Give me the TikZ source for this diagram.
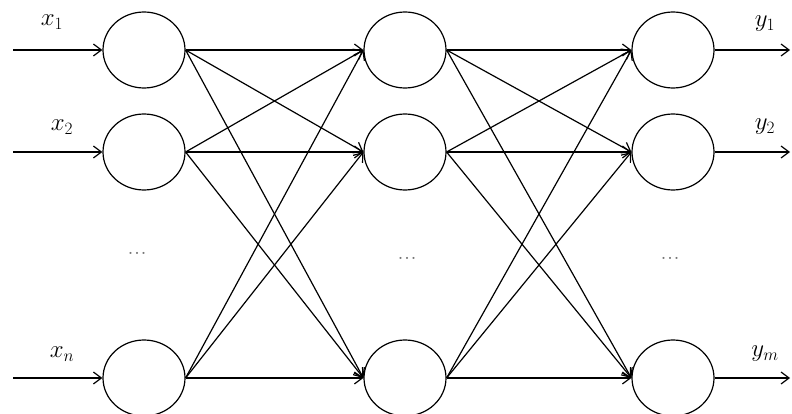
\documentclass[tikz,border=0pt]{standalone}
\usetikzlibrary{shapes.geometric,arrows.meta}
\begin{document}
\begin{tikzpicture}[x=1pt,y=-1pt,
  neuron/.style={ellipse,draw,line width=1.2pt,minimum width=82pt,minimum height=76pt,inner sep=0pt},
  conn/.style={line width=1.2pt,-{Straight Barb[length=8pt,width=12pt,line width=1.2pt]}},
  lbl/.style={font=\fontsize{24}{28}\selectfont},
  dotsl/.style={font=\fontsize{26}{28}\selectfont,text=black!55}]
\useasboundingbox (0,0) rectangle (792,414);
\begin{scope}
\clip (0,0) rectangle (792,414);
% layers
\foreach \c/\x in {a/144,b/405,c/673}{
  \node[neuron] (\c1) at (\x,50) {};
  \node[neuron] (\c2) at (\x,152) {};
  \node[neuron] (\c3) at (\x,378) {};
}
\end{scope}
% dots
\node[dotsl] (d1) at (137,253) {...};
\node[dotsl] (d2) at (407,258) {...};
\node[dotsl] (d3) at (670,258) {...};
% inputs
\coordinate (i1) at (13,50);
\coordinate (i2) at (13,152);
\coordinate (i3) at (13,378);
\coordinate (o1) at (790,50);
\coordinate (o2) at (790,152);
\coordinate (o3) at (790,378);
\foreach \k in {1,2,3}{
  \draw[conn] (i\k) -- (a\k.west);
  \draw[conn] (c\k.east) -- (o\k);
}
\foreach \s in {1,2,3}{
  \foreach \t in {1,2,3}{
    \draw[conn] (a\s.east) -- (b\t.west);
    \draw[conn] (b\s.east) -- (c\t.west);
  }
}
% labels
\node[lbl] (lx1) at (52,22) {$x_1$};
\node[lbl] (lx2) at (62,127) {$x_2$};
\node[lbl] (lxn) at (62,354) {$x_n$};
\node[lbl] (ly1) at (765,24) {$y_1$};
\node[lbl] (ly2) at (765,127) {$y_2$};
\node[lbl] (lym) at (765,354) {$y_m$};
\end{tikzpicture}
\end{document}
